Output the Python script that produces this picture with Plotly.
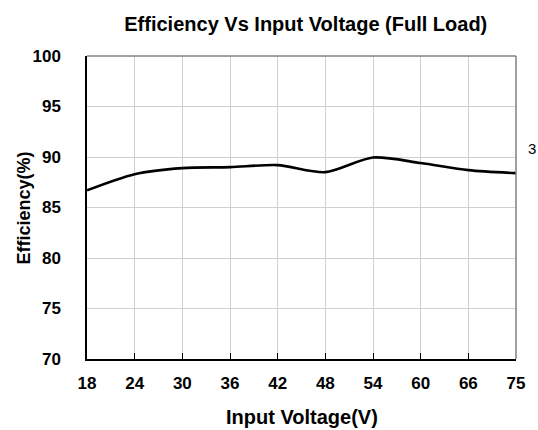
import plotly.graph_objects as go

voltage_labels = ["18", "24", "30", "36", "42", "48", "54", "60", "66", "75"]
efficiency = [86.7, 88.3, 88.9, 89.0, 89.2, 88.5, 89.95, 89.4, 88.7, 88.4]
y_ticks = [70, 75, 80, 85, 90, 95, 100]

FONT = "Liberation Sans, Arial, sans-serif"

fig = go.Figure()
fig.add_trace(go.Scatter(
    x=voltage_labels, y=efficiency, mode="lines",
    line=dict(color="black", width=2.6, shape="spline", smoothing=0.8),
    showlegend=False, hoverinfo="skip",
))

fig.update_layout(
    width=538, height=430,
    margin=dict(l=87, r=22, t=56, b=71),
    paper_bgcolor="white", plot_bgcolor="white",
    title=dict(text="<b>Efficiency Vs Input Voltage (Full Load)</b>",
               xref="paper", x=0.51, xanchor="center",
               yref="container", y=0.944, yanchor="middle",
               font=dict(family=FONT, size=20, color="black")),
    xaxis=dict(
        type="category", range=[0, 9], automargin=False,
        showgrid=True, gridcolor="#d0d0d0", gridwidth=1.2,
        showline=True, linecolor="black", linewidth=1.5,
        ticks="inside", ticklen=6, tickcolor="black",
        ticklabelstandoff=8,
        tickfont=dict(family=FONT, size=17, color="black", weight="bold"),
        zeroline=False,
    ),
    yaxis=dict(
        range=[70, 100], tickvals=y_ticks, automargin=False,
        showgrid=True, gridcolor="#d0d0d0", gridwidth=1.2,
        showline=True, linecolor="black", linewidth=1.5,
        ticks="", ticklabelstandoff=21,
        tickfont=dict(family=FONT, size=17, color="black", weight="bold"),
        zeroline=False,
    ),
)

# top/right frame lines (gray)
fig.add_shape(type="line", xref="paper", yref="paper", x0=0, x1=1, y0=1, y1=1,
              line=dict(color="#808080", width=1.5))
fig.add_shape(type="line", xref="paper", yref="paper", x0=1, x1=1, y0=0, y1=1,
              line=dict(color="#808080", width=1.5))

# axis titles
fig.add_annotation(text="<b>Input Voltage(V)</b>", xref="paper", yref="paper",
                   x=0.5, y=-0.191, xanchor="center", yanchor="middle",
                   showarrow=False,
                   font=dict(family=FONT, size=20, color="black"))
fig.add_annotation(text="<b>Efficiency(%)</b>", xref="paper", yref="paper",
                   x=-0.147, y=0.5, xanchor="center", yanchor="middle",
                   textangle=-90, showarrow=False,
                   font=dict(family=FONT, size=18, color="black"))

fig.add_annotation(text="3", xref="paper", yref="paper", x=1.026, y=0.696,
                   xanchor="left", yanchor="middle", showarrow=False,
                   borderpad=0,
                   font=dict(family=FONT, size=15, color="black"))

fig.write_html("out.html",
               config={"displayModeBar": False},
               post_script="document.body.style.margin='0';"
                           "document.body.style.overflow='hidden';")
